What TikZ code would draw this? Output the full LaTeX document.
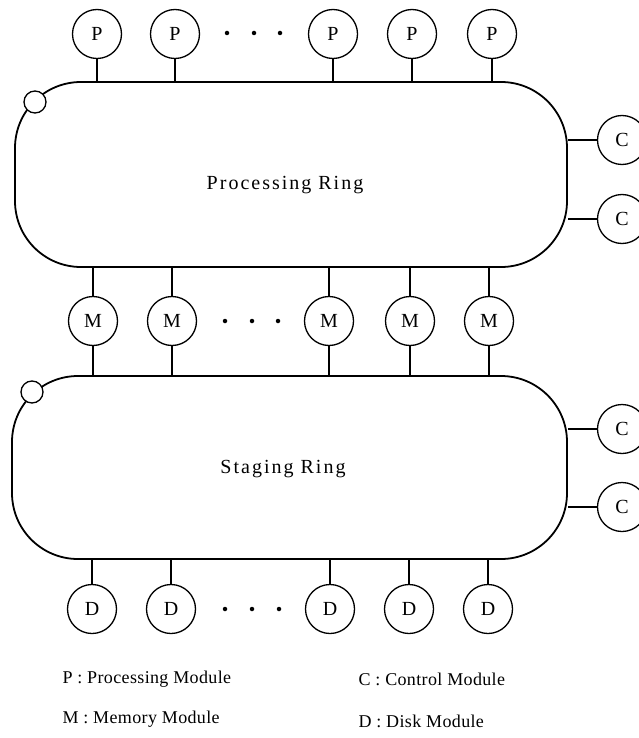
\documentclass[tikz,border=0pt]{standalone}
\usepackage{fontspec}
\setmainfont{Liberation Serif}
\usetikzlibrary{shapes.geometric}
\begin{document}
\begin{tikzpicture}[x=1pt,y=-1pt,
  ring/.style={draw, line width=1.8pt, rounded corners=66pt, inner sep=0pt},
  mod/.style={draw, circle, line width=1.3pt, minimum size=49pt, inner sep=0pt,
    font=\fontsize{20}{20}\selectfont},
  link/.style={line width=1.3pt},
  tap/.style={draw, circle, line width=1.3pt, fill=white, minimum size=22pt, inner sep=0pt},
  ringtext/.style={font=\fontsize{20}{22}\selectfont\addfontfeature{LetterSpace=10}},
  lbl/.style={font=\fontsize{18}{20}\selectfont\addfontfeature{LetterSpace=2}, anchor=west},
  dotmark/.style={circle, fill, inner sep=0pt, minimum size=4.5pt}]
\useasboundingbox (0,0) rectangle (639,738);

% rings
\node[ring, minimum width=552pt, minimum height=185pt] (pr) at (291,174.5) {};
\node[ring, minimum width=555pt, minimum height=183pt] (sr) at (289.5,467.5) {};
\node[ringtext] (prt) at (285,185) {Processing Ring};
\node[ringtext] (srt) at (283,469) {Staging Ring};
\node[tap] (pt) at (35,102) {};
\node[tap] (st) at (32,392) {};

% processing modules
\foreach \n/\x in {1/97,2/175,3/333,4/412,5/492}{
  \node[mod] (p\n) at (\x,34) {P};
  \draw[link] (p\n) -- (p\n |- pr.north);
}
\foreach \n/\x in {1/227,2/254,3/280}
  \node[dotmark] (pd\n) at (\x,33) {};

% memory modules
\foreach \n/\x in {1/93,2/172,3/329,4/410,5/489}{
  \node[mod] (m\n) at (\x,321) {M};
  \draw[link] (m\n) -- (m\n |- pr.south);
  \draw[link] (m\n) -- (m\n |- sr.north);
}
\foreach \n/\x in {1/225,2/252,3/278}
  \node[dotmark] (md\n) at (\x,321) {};

% disk modules
\foreach \n/\x in {1/92,2/171,3/330,4/409,5/488}{
  \node[mod] (d\n) at (\x,609) {D};
  \draw[link] (d\n) -- (d\n |- sr.south);
}
\foreach \n/\x in {1/225,2/252,3/279}
  \node[dotmark] (dd\n) at (\x,609) {};

% control modules
\foreach \n/\y in {1/140,2/219}{
  \node[mod] (pc\n) at (622,\y) {C};
  \draw[link] (pc\n) -- (pc\n -| pr.east);
}
\foreach \n/\y in {1/429,2/507}{
  \node[mod] (sc\n) at (622,\y) {C};
  \draw[link] (sc\n) -- (sc\n -| sr.east);
}

% legend
\node[lbl] (lp) at (59,679) {P : Processing Module};
\node[lbl] (lc) at (355,679) {C : Control Module};
\node[lbl] (lm) at (59,719) {M : Memory Module};
\node[lbl] (ld) at (355,721) {D : Disk Module};
\end{tikzpicture}
\end{document}
